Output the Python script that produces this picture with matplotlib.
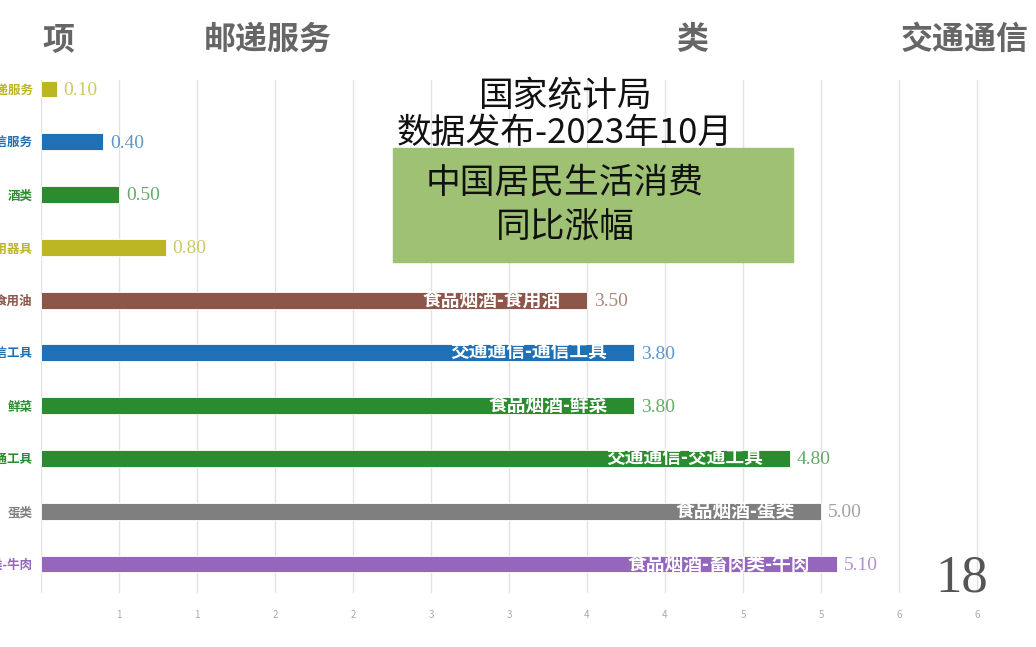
'''
Bar chart race frame: CPI year-on-year change, 2023-10
'''

import math
import matplotlib
matplotlib.use('Agg')
import matplotlib.pyplot as plt
from matplotlib.ticker import MultipleLocator, FuncFormatter
from matplotlib.patches import Rectangle

plt.rcParams['font.family'] = ['Noto Sans CJK SC', 'DejaVu Sans']

# data, top to bottom
labels = ["邮递服务", "通信服务", "酒类", "家用器具", "食用油",
          "通信工具", "鲜菜", "交通工具", "蛋类", "畜肉类-牛肉"]
groups = ["交通通信", "交通通信", "食品烟酒", "生活用品及服务", "食品烟酒",
          "交通通信", "食品烟酒", "交通通信", "食品烟酒", "食品烟酒"]
values = [0.10, 0.40, 0.50, 0.80, 3.50, 3.80, 3.80, 4.80, 5.00, 5.10]
colors = ["#bcb524", "#1f70b4", "#2a8c2f", "#bcb524", "#8c564b",
          "#1f70b4", "#2a8c2f", "#2a8c2f", "#7f7f7f", "#9467bd"]

title_lines = ["国家统计局", "数据发布-2023年10月", "中国居民生活消费", "同比涨幅"]
header_words = ["项", "邮递服务", "类", "交通通信"]
frame_no = "18"

W, H = 1036, 647
fig = plt.figure(figsize=(W / 100, H / 100), dpi=100)

# axes placed in pixel terms
left, right, top, bottom = 41, W, 80, 593
ax = fig.add_axes([left / W, 1 - bottom / H, (right - left) / W, (bottom - top) / H])

px_per_unit = 156.0
ax.set_xlim(0, (right - left) / px_per_unit)
n = len(values)
step = 52.78
ax.set_ylim(n - 1 + (bottom - 564) / step, -(89 - top) / step)

ypos = list(range(n))
ax.barh(ypos, values, height=0.32, color=colors, edgecolor='white',
        linewidth=0.6, zorder=2)

for y, v, c, lab, grp in zip(ypos, values, colors, labels, groups):
    ax.annotate('%.2f' % v, (v, y), xytext=(5, -1), textcoords='offset points',
                va='center', ha='left', fontsize=14, color=c, alpha=0.72,
                family='Liberation Serif', zorder=3)
    if v >= 3:
        ax.annotate(grp + '-' + lab, (v, y), xytext=(-19, 0),
                    textcoords='offset points', va='center', ha='right',
                    fontsize=13.5, color='white', fontweight='bold', zorder=3)

ax.set_yticks(ypos)
ax.set_yticklabels(labels, fontsize=9, fontweight='bold')
for t, c in zip(ax.get_yticklabels(), colors):
    t.set_color(c)

ax.xaxis.set_major_locator(MultipleLocator(0.5))
ax.xaxis.set_major_formatter(FuncFormatter(
    lambda x, p: '' if x < 0.25 else str(int(math.floor(x + 0.5)))))
ax.tick_params(axis='x', length=0, pad=12, labelsize=7, labelcolor='#aaaaaa')
ax.tick_params(axis='y', length=0, pad=6)
ax.grid(axis='x', color='#e2e2e2', linewidth=1, zorder=0)
ax.set_axisbelow(True)
for s in ax.spines.values():
    s.set_visible(False)

# title box
fig.patches.append(Rectangle((393 / W, 1 - 262 / H), 400 / W, 114 / H,
                             transform=fig.transFigure, color='#9fc173',
                             zorder=1))
title_y = [97, 133, 183, 228]
for line, ty in zip(title_lines, title_y):
    fig.text(565 / W, 1 - ty / H, line, ha='center', va='center',
             fontsize=25, color='#111111', fontweight='light', zorder=5)

# scrolling header
header_x = [58, 268, 692, 965]
for word, hx in zip(header_words, header_x):
    fig.text(hx / W, 1 - 40 / H, word, ha='center', va='center',
             fontsize=23, color='#666666', fontweight='bold')

fig.text(962 / W, 1 - 578 / H, frame_no, ha='center', va='center',
         fontsize=38, color='#555555', family='Liberation Serif')

fig.savefig('out.png', dpi=100)
